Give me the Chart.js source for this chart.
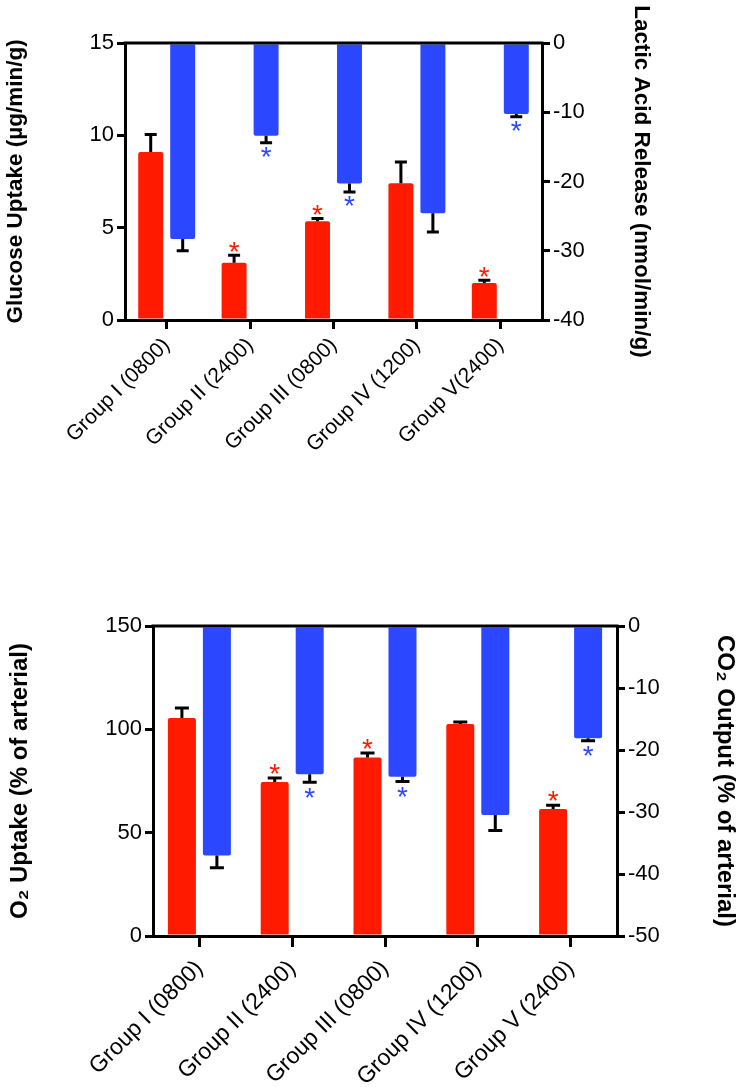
<!DOCTYPE html>
<html>
<head>
<meta charset="utf-8">
<script src="https://cdn.jsdelivr.net/npm/chart.js@4.4.0/dist/chart.umd.min.js"></script>
<style>
  body { margin: 0; background: #fff; }
  #wrap { position: relative; width: 745px; height: 1087px; }
  canvas { position: absolute; left: 0; }
  #topChart { top: 0; }
  #bottomChart { top: 540px; }
</style>
</head>
<body>
<div id="wrap">
  <canvas id="topChart" width="745" height="540"></canvas>
  <canvas id="bottomChart" width="745" height="547"></canvas>
</div>
<script>
// DATA
const groupsTop = ['Group I (0800)', 'Group II (2400)', 'Group III (0800)', 'Group IV (1200)', 'Group V(2400)'];
const groupsBottom = ['Group I (0800)', 'Group II (2400)', 'Group III (0800)', 'Group IV (1200)', 'Group V (2400)'];

const glucose    = [9.1, 3.1, 5.35, 7.4, 2.0];
const glucoseSem = [0.95, 0.4, 0.15, 1.15, 0.15];
const glucoseSig = [false, true, true, false, true];

const lactic    = [-28.3, -13.4, -20.3, -24.6, -10.25];
const lacticSem = [1.7, 1.0, 1.2, 2.7, 0.4];
const lacticSig = [false, true, true, false, true];

const o2    = [105.5, 74.5, 86.4, 102.6, 61.4];
const o2Sem = [4.8, 1.9, 2.1, 1.0, 1.9];
const o2Sig = [false, true, true, false, true];

const co2    = [-37.0, -23.9, -24.3, -30.5, -18.1];
const co2Sem = [2.0, 1.3, 0.8, 2.5, 0.4];
const co2Sig = [false, true, true, false, true];

const RED = '#ff1a00';
const BLUE = '#2b47ff';
const FONT = '"Liberation Sans", Arial, sans-serif';

Chart.defaults.font.family = FONT;
Chart.defaults.color = '#000';

// error bars, asterisks and the top frame line
const errorBars = {
  id: 'errorBars',
  afterDatasetsDraw(chart, args, opts) {
    const ctx = chart.ctx;
    const area = chart.chartArea;
    ctx.save();
    chart.data.datasets.forEach((ds, di) => {
      const meta = chart.getDatasetMeta(di);
      const scale = chart.scales[ds.yAxisID];
      meta.data.forEach((bar, i) => {
        const v = ds.data[i];
        const dir = v < 0 ? -1 : 1;
        const yv = scale.getPixelForValue(v);
        const ye = scale.getPixelForValue(v + dir * ds.sem[i]);
        ctx.strokeStyle = '#000';
        ctx.lineWidth = 3;
        ctx.beginPath();
        ctx.moveTo(bar.x, yv);
        ctx.lineTo(bar.x, ye);
        ctx.moveTo(bar.x - opts.cap, ye);
        ctx.lineTo(bar.x + opts.cap, ye);
        ctx.stroke();
        if (ds.sig[i]) {
          const size = 28;
          ctx.fillStyle = ds.backgroundColor;
          ctx.font = size + 'px ' + FONT;
          ctx.textAlign = 'center';
          ctx.textBaseline = 'alphabetic';
          const cy = ye - dir * opts.gap;
          ctx.fillText('*', bar.x, cy + 0.52 * size);
        }
      });
    });
    ctx.strokeStyle = '#000';
    ctx.lineWidth = 3;
    ctx.beginPath();
    ctx.moveTo(area.left - 1.5, area.top);
    ctx.lineTo(area.right + 1.5, area.top);
    ctx.stroke();
    ctx.restore();
  }
};

function axisY(pos, min, max, step, title, cfg, width, titlePad) {
  return {
    position: pos,
    min: min,
    max: max,
    ticks: { stepSize: step, font: { size: cfg.tickSize }, color: '#000', padding: 3 },
    grid: { display: true, drawOnChartArea: false, drawTicks: true, tickLength: 8, lineWidth: 3, color: '#000' },
    border: { display: true, width: 3, color: '#000' },
    title: { display: true, text: title, color: '#000', font: { size: cfg.titleSize, weight: 'bold' }, padding: { top: titlePad, bottom: 0 } },
    afterFit: (s) => { s.width = width; }
  };
}

function axisX(cfg) {
  return {
    offset: true,
    ticks: { font: { size: cfg.labelSize }, color: '#000', minRotation: 45, maxRotation: 45, padding: cfg.labelPad, autoSkip: false },
    grid: { display: true, offset: false, drawOnChartArea: false, drawTicks: true, tickLength: cfg.xTick, lineWidth: 3, color: '#000' },
    border: { display: true, width: 3, color: '#000' },
    afterFit: (s) => { s.height = cfg.xHeight; }
  };
}

function makeChart(id, labels, a, b, cfg) {
  new Chart(document.getElementById(id), {
    type: 'bar',
    data: {
      labels: labels,
      datasets: [
        { data: a.values, sem: a.sem, sig: a.sig, yAxisID: 'yL', backgroundColor: RED, borderRadius: 2,
          categoryPercentage: cfg.catPct, barPercentage: cfg.barPct },
        { data: b.values, sem: b.sem, sig: b.sig, yAxisID: 'yR', backgroundColor: BLUE, borderRadius: 2,
          categoryPercentage: cfg.catPct, barPercentage: cfg.barPct }
      ]
    },
    options: {
      responsive: false,
      animation: false,
      layout: { padding: { top: cfg.padTop, left: 0, right: 0, bottom: 0 } },
      plugins: { legend: { display: false }, tooltip: { enabled: false }, errorBars: { cap: cfg.cap, gap: cfg.gap } },
      scales: {
        x: axisX(cfg),
        yL: axisY('left', a.min, a.max, a.step, a.title, cfg, cfg.leftW, cfg.leftTitlePad),
        yR: axisY('right', b.min, b.max, b.step, b.title, cfg, cfg.rightW, cfg.rightTitlePad)
      }
    },
    plugins: [errorBars]
  });
}

makeChart('topChart', groupsTop,
  { values: glucose, sem: glucoseSem, sig: glucoseSig, min: 0, max: 15, step: 5, title: 'Glucose Uptake (\u00b5g/min/g)' },
  { values: lactic, sem: lacticSem, sig: lacticSig, min: -40, max: 0, step: 10, title: 'Lactic Acid Release (nmol/min/g)' },
  { catPct: 0.767, barPct: 0.78, padTop: 43, xHeight: 220, leftW: 125, rightW: 203, leftTitlePad: 2, rightTitlePad: 90,
    cap: 6, gap: 9, tickSize: 22, titleSize: 22.5, labelSize: 21, labelPad: 4, xTick: 9 });

makeChart('bottomChart', groupsBottom,
  { values: o2, sem: o2Sem, sig: o2Sig, min: 0, max: 150, step: 50, title: 'O\u2082 Uptake (% of arterial)' },
  { values: co2, sem: co2Sem, sig: co2Sig, min: -50, max: 0, step: 10, title: 'CO\u2082 Output (% of arterial)' },
  { catPct: 0.754, barPct: 0.8, padTop: 86, xHeight: 151, leftW: 153, rightW: 128, leftTitlePad: 6, rightTitlePad: 6,
    cap: 7, gap: 10, tickSize: 22, titleSize: 24, labelSize: 23, labelPad: 8, xTick: 11 });
</script>
</body>
</html>
